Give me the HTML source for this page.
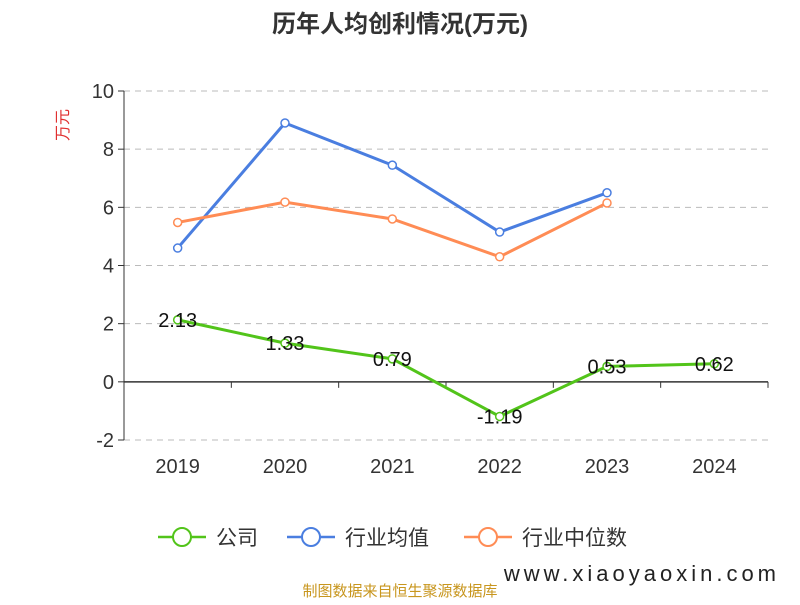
<!DOCTYPE html>
<html><head><meta charset="utf-8"><style>
body{margin:0;background:#fff;}
svg text{font-family:"Liberation Sans","Noto Sans CJK SC",sans-serif;}
</style></head><body>
<svg id="chart" width="800" height="600" xmlns="http://www.w3.org/2000/svg">
<text x="400" y="32" text-anchor="middle" font-size="24" font-weight="bold" fill="#333">历年人均创利情况(万元)</text>
<text x="0" y="0" transform="translate(68,125) rotate(-90)" text-anchor="middle" font-size="16" fill="#e03030">万元</text>
<g id="grid"></g><g id="axes"></g><g id="series"></g>
<g>
<g><line x1="158" y1="537" x2="206" y2="537" stroke="#52c41a" stroke-width="2.5"/><circle cx="182" cy="537" r="9" fill="#fff" stroke="#52c41a" stroke-width="2"/><text x="216" y="545" font-size="21" fill="#333">公司</text></g>
<g><line x1="287" y1="537" x2="335" y2="537" stroke="#4a7ee0" stroke-width="2.5"/><circle cx="311" cy="537" r="9" fill="#fff" stroke="#4a7ee0" stroke-width="2"/><text x="345" y="545" font-size="21" fill="#333">行业均值</text></g>
<g><line x1="464" y1="537" x2="512" y2="537" stroke="#ff8c55" stroke-width="2.5"/><circle cx="488" cy="537" r="9" fill="#fff" stroke="#ff8c55" stroke-width="2"/><text x="522" y="545" font-size="21" fill="#333">行业中位数</text></g>
</g>
<text x="400" y="596" text-anchor="middle" font-size="15" fill="#c8961e">制图数据来自恒生聚源数据库</text>
<text x="780" y="581" text-anchor="end" font-size="22" fill="#222" letter-spacing="4">www.xiaoyaoxin.com</text>
</svg>
<script>
const categories=["2019","2020","2021","2022","2023","2024"];
const company=[2.13,1.33,0.79,-1.19,0.53,0.62];
const industryAvg=[4.6,8.9,7.45,5.15,6.5,null];
const industryMedian=[5.48,6.18,5.6,4.3,6.15,null];
const yTicks=[-2,0,2,4,6,8,10];
const NS="http://www.w3.org/2000/svg";
const X0=124,X1=768,Y0=440,Y1=91,ymin=-2,ymax=10;
const bw=(X1-X0)/categories.length;
const xs=i=>X0+bw*(i+0.5);
const ys=v=>Y0-(v-ymin)/(ymax-ymin)*(Y0-Y1);
function mk(t,a,p){const e=document.createElementNS(NS,t);for(const k in a)e.setAttribute(k,a[k]);p.appendChild(e);return e;}
const grid=document.getElementById('grid'),axes=document.getElementById('axes'),ser=document.getElementById('series');
yTicks.forEach(v=>{
 if(v!==0){const l=mk('line',{x1:X0,x2:X1,y1:ys(v),y2:ys(v),stroke:'#bbb','stroke-dasharray':'6,5'},grid);
 
 }
 const tk=mk('line',{x1:X0-6,x2:X0,y1:ys(v),y2:ys(v),stroke:'#333'},axes);
 
 
 const t=mk('text',{x:X0-10,y:ys(v)+7,'text-anchor':'end','font-size':20,fill:'#333'},axes);
 t.textContent=v;
 
 
});
const ya=mk('line',{x1:X0,x2:X0,y1:Y1,y2:Y0,stroke:'#333'},axes);


const xa=mk('line',{x1:X0,x2:X1,y1:ys(0),y2:ys(0),stroke:'#333','stroke-width':1.5},axes);


for(let i=0;i<=categories.length;i++){const tk=mk('line',{x1:X0+bw*i,x2:X0+bw*i,y1:ys(0),y2:ys(0)+6,stroke:'#333'},axes);
 
 }
categories.forEach((c,i)=>{const t=mk('text',{x:xs(i),y:473,'text-anchor':'middle','font-size':20,fill:'#333'},axes);
 t.textContent=c;
 
 });
function series(arr,color,name,labels){
 const g=mk('g',{},ser);
 
 
 let d='';arr.forEach((v,i)=>{if(v!==null)d+=(d?'L':'M')+xs(i)+','+ys(v);});
 mk('path',{d:d,fill:'none',stroke:color,'stroke-width':3},g);
 arr.forEach((v,i)=>{if(v===null)return;
  const c=mk('circle',{cx:xs(i),cy:ys(v),r:4,fill:'#fff',stroke:color,'stroke-width':1.5},g);
  
  
  if(labels){const t=mk('text',{x:xs(i),y:ys(v)+(v<0?7:7),'text-anchor':'middle','font-size':20,fill:'#111'},g);
   t.textContent=v.toFixed(2);
   
   }
 });
}
series(industryAvg,'#4a7ee0','industry-avg-line',false);
series(industryMedian,'#ff8c55','industry-median-line',false);
series(company,'#52c41a','company-line',true);
</script>
</body></html>
